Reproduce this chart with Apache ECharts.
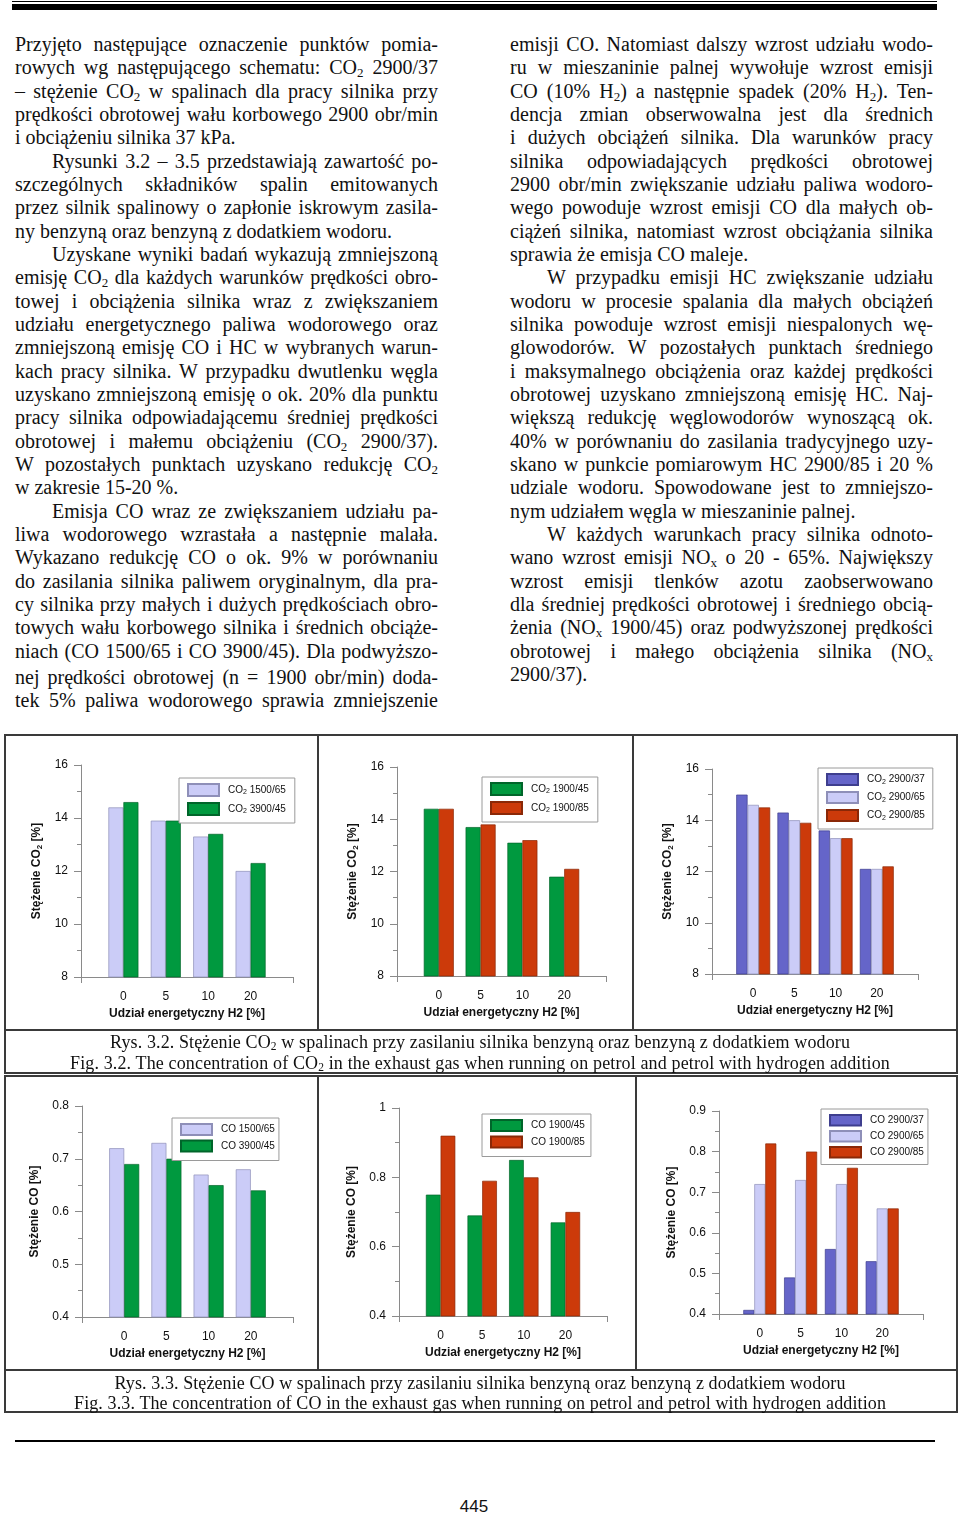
<!DOCTYPE html>
<html><head><meta charset="utf-8">
<script src="https://cdn.jsdelivr.net/npm/echarts@6/dist/echarts.min.js"></script>
<style>
html,body{margin:0;padding:0;background:#fff;}
#page{position:relative;width:960px;height:1516px;overflow:hidden;background:#fff;}
.col{position:absolute;top:33px;width:423px;font-family:"Liberation Serif","Times New Roman",serif;font-size:20px;color:#111;}
.ln{height:23.33px;line-height:23.33px;white-space:nowrap;}
.ln span{display:inline-block;}
sub{font-size:13px;vertical-align:-3px;line-height:0;}
.cap{position:absolute;left:0;width:960px;text-align:center;font-family:"Liberation Serif","Times New Roman",serif;font-size:18px;line-height:20px;color:#111;white-space:nowrap;}
.cap span{display:inline-block;}
.cap sub{font-size:11.5px;vertical-align:-2px;}
.chart{position:absolute;}
.bx{position:absolute;border:2px solid #3a3a3a;box-sizing:border-box;pointer-events:none;}
.hl{position:absolute;height:2px;background:#3a3a3a;}
.vl{position:absolute;width:2px;background:#3a3a3a;}
</style></head>
<body><div id="page">
<div style="position:absolute;left:12px;top:1px;width:925px;height:1px;background:#000"></div>
<div style="position:absolute;left:12px;top:4px;width:925px;height:6px;background:#000"></div>
<div class="col" id="colL" style="left:15px"></div>
<div class="col" id="colR" style="left:510px"></div>

<div class="chart" id="c1" style="left:5px;top:735px;width:313px;height:295px"></div>
<div class="chart" id="c2" style="left:318px;top:735px;width:315px;height:295px"></div>
<div class="chart" id="c3" style="left:633px;top:735px;width:323px;height:295px"></div>
<div class="chart" id="c4" style="left:5px;top:1076px;width:313px;height:294px"></div>
<div class="chart" id="c5" style="left:318px;top:1076px;width:318px;height:294px"></div>
<div class="chart" id="c6" style="left:636px;top:1076px;width:320px;height:294px"></div>

<div class="bx" style="left:4px;top:734px;width:954px;height:340px"></div>
<div class="hl" style="left:4px;top:1029px;width:954px"></div>
<div class="vl" style="left:317px;top:734px;height:296px"></div>
<div class="vl" style="left:632px;top:734px;height:296px"></div>
<div class="bx" style="left:4px;top:1075px;width:954px;height:338px"></div>
<div class="hl" style="left:4px;top:1369px;width:954px"></div>
<div class="vl" style="left:317px;top:1075px;height:295px"></div>
<div class="vl" style="left:635px;top:1075px;height:295px"></div>

<div class="cap" style="top:1032px"><span data-w="740">Rys. 3.2. Stężenie CO<sub>2</sub> w spalinach przy zasilaniu silnika benzyną oraz benzyną z dodatkiem wodoru</span></div>
<div class="cap" style="top:1053px"><span data-w="820">Fig. 3.2. The concentration of CO<sub>2</sub> in the exhaust gas when running on petrol and petrol with hydrogen addition</span></div>
<div class="cap" style="top:1373px"><span data-w="731">Rys. 3.3. Stężenie CO w spalinach przy zasilaniu silnika benzyną oraz benzyną z dodatkiem wodoru</span></div>
<div class="cap" style="top:1393px"><span data-w="812">Fig. 3.3. The concentration of CO in the exhaust gas when running on petrol and petrol with hydrogen addition</span></div>

<div style="position:absolute;left:15px;top:1440px;width:920px;height:2px;background:#000"></div>
<div style="position:absolute;left:424px;top:1497px;width:100px;text-align:center;font-family:'Liberation Sans Narrow','Liberation Sans',Arial,sans-serif;font-size:17px;line-height:20px;color:#111">445</div>
</div>
<script>
// ---------- chart data ----------
const xCategories = ['0', '5', '10', '20'];
const co2_1500_65 = [14.4, 13.9, 13.3, 12.0];
const co2_3900_45 = [14.6, 13.9, 13.4, 12.3];
const co2_1900_45 = [14.4, 13.7, 13.1, 11.8];
const co2_1900_85 = [14.4, 13.8, 13.2, 12.1];
const co2_2900_37 = [15.0, 14.3, 13.6, 12.1];
const co2_2900_65 = [14.6, 14.0, 13.3, 12.1];
const co2_2900_85 = [14.5, 13.9, 13.3, 12.2];
const co_1500_65 = [0.72, 0.73, 0.67, 0.68];
const co_3900_45 = [0.69, 0.70, 0.65, 0.64];
const co_1900_45 = [0.75, 0.69, 0.85, 0.67];
const co_1900_85 = [0.92, 0.79, 0.80, 0.70];
const co_2900_37 = [0.41, 0.49, 0.56, 0.53];
const co_2900_65 = [0.72, 0.73, 0.72, 0.66];
const co_2900_85 = [0.82, 0.80, 0.76, 0.66];
const xAxisTitle = 'Udział energetyczny H2 [%]';
const yTitleCO2 = 'Stężenie CO{s|2} [%]';
const yTitleCO = 'Stężenie CO [%]';

// ---------- text ----------
const leftLines = [
'Przyjęto następujące oznaczenie punktów pomia-',
'rowych wg następującego schematu: CO<sub>2</sub> 2900/37',
'– stężenie CO<sub>2</sub> w spalinach dla pracy silnika przy',
'prędkości obrotowej wału korbowego 2900 obr/min',
'i obciążeniu silnika 37 kPa.¶',
'>Rysunki 3.2 – 3.5 przedstawiają zawartość po-',
'szczególnych składników spalin emitowanych',
'przez silnik spalinowy o zapłonie iskrowym zasila-',
'ny benzyną oraz benzyną z dodatkiem wodoru.¶',
'>Uzyskane wyniki badań wykazują zmniejszoną',
'emisję CO<sub>2</sub> dla każdych warunków prędkości obro-',
'towej i obciążenia silnika wraz z zwiększaniem',
'udziału energetycznego paliwa wodorowego oraz',
'zmniejszoną emisję CO i HC w wybranych warun-',
'kach pracy silnika. W przypadku dwutlenku węgla',
'uzyskano zmniejszoną emisję o ok. 20% dla punktu',
'pracy silnika odpowiadającemu średniej prędkości',
'obrotowej i małemu obciążeniu (CO<sub>2</sub> 2900/37).',
'W pozostałych punktach uzyskano redukcję CO<sub>2</sub>',
'w zakresie 15-20 %.¶',
'>Emisja CO wraz ze zwiększaniem udziału pa-',
'liwa wodorowego wzrastała a następnie malała.',
'Wykazano redukcję CO o ok. 9% w porównaniu',
'do zasilania silnika paliwem oryginalnym, dla pra-',
'cy silnika przy małych i dużych prędkościach obro-',
'towych wału korbowego silnika i średnich obciąże-',
'niach (CO 1500/65 i CO 3900/45). Dla podwyższo-',
'nej prędkości obrotowej (n = 1900 obr/min) doda-',
'tek 5% paliwa wodorowego sprawia zmniejszenie'
];
const rightLines = [
'emisji CO. Natomiast dalszy wzrost udziału wodo-',
'ru w mieszaninie palnej wywołuje wzrost emisji',
'CO (10% H<sub>2</sub>) a następnie spadek (20% H<sub>2</sub>). Ten-',
'dencja zmian obserwowalna jest dla średnich',
'i dużych obciążeń silnika. Dla warunków pracy',
'silnika odpowiadających prędkości obrotowej',
'2900 obr/min zwiększanie udziału paliwa wodoro-',
'wego powoduje wzrost emisji CO dla małych ob-',
'ciążeń silnika, natomiast wzrost obciążania silnika',
'sprawia że emisja CO maleje.¶',
'>W przypadku emisji HC zwiększanie udziału',
'wodoru w procesie spalania dla małych obciążeń',
'silnika powoduje wzrost emisji niespalonych wę-',
'glowodorów. W pozostałych punktach średniego',
'i maksymalnego obciążenia oraz każdej prędkości',
'obrotowej uzyskano zmniejszoną emisję HC. Naj-',
'większą redukcję węglowodorów wynoszącą ok.',
'40% w porównaniu do zasilania tradycyjnego uzy-',
'skano w punkcie pomiarowym HC 2900/85 i 20 %',
'udziale wodoru. Spowodowane jest to zmniejszo-',
'nym udziałem węgla w mieszaninie palnej.¶',
'>W każdych warunkach pracy silnika odnoto-',
'wano wzrost emisji NO<sub>x</sub> o 20 - 65%. Największy',
'wzrost emisji tlenków azotu zaobserwowano',
'dla średniej prędkości obrotowej i średniego obcią-',
'żenia (NO<sub>x</sub> 1900/45) oraz podwyższonej prędkości',
'obrotowej i małego obciążenia silnika (NO<sub>x</sub>',
'2900/37).¶'
];

function buildCol(el, lines, width, extra) {
  lines.forEach((raw, idx) => {
    let s = raw;
    const indent = s.startsWith('>'); if (indent) s = s.slice(1);
    const last = s.endsWith('¶'); if (last) s = s.slice(0, -1);
    const d = document.createElement('div'); d.className = 'ln';
    if (indent) d.style.paddingLeft = '37px';
    if (extra && extra[idx]) d.style.marginTop = extra[idx] + 'px';
    const sp = document.createElement('span'); sp.innerHTML = s;
    d.appendChild(sp); el.appendChild(d);
    if (!last) {
      const tw = width - (indent ? 37 : 0);
      const nw = sp.getBoundingClientRect().width;
      const n = (sp.textContent.match(/ /g) || []).length;
      if (n) sp.style.wordSpacing = ((tw - nw) / n) + 'px';
    }
  });
}
buildCol(document.getElementById('colL'), leftLines, 423, {27: 3});
buildCol(document.getElementById('colR'), rightLines, 423, {});

document.querySelectorAll('.cap span').forEach(sp => {
  const tw = +sp.dataset.w;
  const nw = sp.getBoundingClientRect().width;
  const n = sp.textContent.length;
  sp.style.letterSpacing = ((tw - nw) / n) + 'px';
});

// ---------- charts ----------
const C = {
  light: {color: '#cbccf7', border: '#8e8fb8'},
  green: {color: '#00993f', border: '#00652a'},
  red: {color: '#cc3a0a', border: '#8a2807'},
  dark: {color: '#6565c9', border: '#3e3e8e'}
};
const FONT = '"Liberation Sans", Arial, sans-serif';
const AXC = '#8a8a8a';

function makeChart(id, cfg) {
  const chart = echarts.init(document.getElementById(id), null, {renderer: 'canvas'});
  chart.setOption({
    animation: false,
    textStyle: {fontFamily: FONT},
    grid: cfg.grid,
    legend: {
      orient: 'vertical', left: cfg.legend.left, top: cfg.legend.top,
      itemWidth: 31, itemHeight: cfg.legend.ih, itemGap: cfg.legend.gap,
      padding: cfg.legend.pad, borderColor: '#9a9a9a', borderWidth: 1,
      backgroundColor: '#fff', selectedMode: false, icon: 'rect',
      formatter: n => '{p|}' + n.replace('CO2', 'CO{s|2}'),
      textStyle: {fontSize: 10, color: '#111', fontFamily: FONT, lineHeight: 12,
        rich: {p: {width: 4}, s: {fontSize: 7, fontFamily: FONT, color: '#111', verticalAlign: 'bottom'}}}
    },
    xAxis: {
      type: 'value', min: 0, max: xCategories.length + 1,
      splitLine: {show: false},
      axisLine: {show: true, lineStyle: {color: AXC, width: 1}},
      axisTick: {show: true, customValues: [0, xCategories.length + 1], length: 6, lineStyle: {color: AXC}},
      axisLabel: {customValues: xCategories.map((c, i) => i + 1), formatter: v => xCategories[Math.round(v) - 1],
        margin: 14, fontSize: 12, color: '#111', fontFamily: FONT},
      name: xAxisTitle, nameLocation: 'middle', nameGap: 28,
      nameTextStyle: {fontWeight: 'bold', fontSize: 12, color: '#111', fontFamily: FONT}
    },
    yAxis: {
      type: 'value', min: cfg.y.min, max: cfg.y.max, interval: cfg.y.interval,
      splitLine: {show: false},
      axisLine: {show: true, lineStyle: {color: AXC, width: 1}},
      axisTick: {show: true, length: 7, lineStyle: {color: AXC}},
      minorTick: {show: true, splitNumber: 2, length: 4, lineStyle: {color: AXC}},
      minorSplitLine: {show: false},
      axisLabel: {fontSize: 12, margin: 13, color: '#111', fontFamily: FONT},
      name: cfg.yName, nameLocation: 'middle', nameGap: cfg.yGap,
      nameTextStyle: {fontWeight: 'bold', fontSize: 12, color: '#111', fontFamily: FONT, lineHeight: 14,
        rich: {s: {fontSize: 8, fontWeight: 'bold', fontFamily: FONT, color: '#111', verticalAlign: 'bottom'}}}
    },
    series: cfg.series.map(s => ({
      type: 'bar', name: s.name, barWidth: cfg.barWidth, barGap: '0%',
      data: s.data.map((v, i) => [i + 1, v]),
      itemStyle: {color: s.c.color, borderColor: s.c.border, borderWidth: 0.7}
    }))
  });
}

makeChart('c1', {
  grid: {left: 76, right: 25, top: 30, bottom: 53},
  y: {min: 8, max: 16, interval: 2}, yName: yTitleCO2, yGap: 36, barWidth: 15,
  legend: {left: 174, top: 43, ih: 12, gap: 5, pad: [5, 9, 7, 8]},
  series: [{name: 'CO2 1500/65', data: co2_1500_65, c: C.light}, {name: 'CO2 3900/45', data: co2_3900_45, c: C.green}]
});
makeChart('c2', {
  grid: {left: 79, right: 27, top: 32, bottom: 54},
  y: {min: 8, max: 16, interval: 2}, yName: yTitleCO2, yGap: 37, barWidth: 15,
  legend: {left: 164, top: 42, ih: 12, gap: 5, pad: [5, 9, 7, 8]},
  series: [{name: 'CO2 1900/45', data: co2_1900_45, c: C.green}, {name: 'CO2 1900/85', data: co2_1900_85, c: C.red}]
});
makeChart('c3', {
  grid: {left: 79, right: 38, top: 34, bottom: 56},
  y: {min: 8, max: 16, interval: 2}, yName: yTitleCO2, yGap: 33, barWidth: 11.3,
  legend: {left: 185, top: 33, ih: 11, gap: 5, pad: [5, 8, 7, 8]},
  series: [{name: 'CO2 2900/37', data: co2_2900_37, c: C.dark}, {name: 'CO2 2900/65', data: co2_2900_65, c: C.light}, {name: 'CO2 2900/85', data: co2_2900_85, c: C.red}]
});
makeChart('c4', {
  grid: {left: 77, right: 25, top: 30, bottom: 53},
  y: {min: 0.4, max: 0.8, interval: 0.1}, yName: yTitleCO, yGap: 37, barWidth: 15,
  legend: {left: 167, top: 42, ih: 11, gap: 3.5, pad: [5, 4, 8, 8]},
  series: [{name: 'CO 1500/65', data: co_1500_65, c: C.light}, {name: 'CO 3900/45', data: co_3900_45, c: C.green}]
});
makeChart('c5', {
  grid: {left: 81, right: 29, top: 32, bottom: 54},
  y: {min: 0.4, max: 1, interval: 0.2}, yName: yTitleCO, yGap: 40, barWidth: 14.7,
  legend: {left: 164, top: 38, ih: 11, gap: 3.5, pad: [5, 6, 8, 8]},
  series: [{name: 'CO 1900/45', data: co_1900_45, c: C.green}, {name: 'CO 1900/85', data: co_1900_85, c: C.red}]
});
makeChart('c6', {
  grid: {left: 83, right: 33, top: 35, bottom: 56},
  y: {min: 0.4, max: 0.9, interval: 0.1}, yName: yTitleCO, yGap: 36, barWidth: 11,
  legend: {left: 185, top: 33, ih: 10.5, gap: 3.5, pad: [5, 4, 6, 8]},
  series: [{name: 'CO 2900/37', data: co_2900_37, c: C.dark}, {name: 'CO 2900/65', data: co_2900_65, c: C.light}, {name: 'CO 2900/85', data: co_2900_85, c: C.red}]
});
</script>
</body></html>
